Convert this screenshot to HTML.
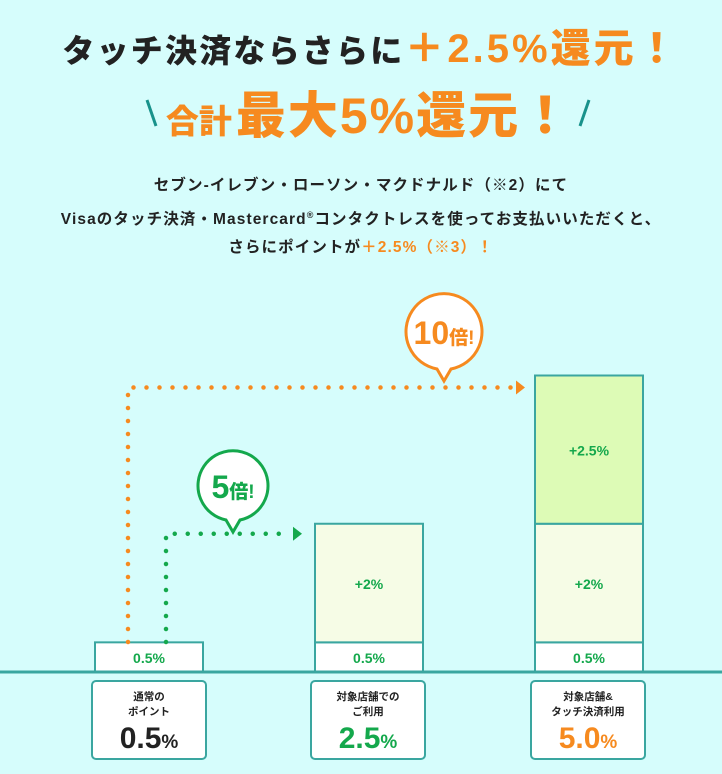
<!DOCTYPE html>
<html><head><meta charset="utf-8"><style>
html,body{margin:0;padding:0;}
body{width:722px;height:774px;background:#d6fdfc;position:relative;overflow:hidden;font-family:"Liberation Sans","Noto Sans CJK JP",sans-serif;}
.abs{position:absolute;}
h1{position:absolute;left:10px;width:722px;top:16px;margin:0;text-align:center;font-size:32px;font-weight:900;color:#222;white-space:nowrap;letter-spacing:2.2px;}
h1 .o{color:#f68a1f;font-size:40px;letter-spacing:3px;}
.h2{position:absolute;left:8px;width:722px;top:76px;text-align:center;color:#f68a1f;font-weight:900;white-space:nowrap;}
.h2 .s{font-size:33px;margin-right:4px;}
.h2 .b{font-size:50px;letter-spacing:2px;}
.p{position:absolute;left:0;width:722px;top:172px;text-align:center;font-size:15.5px;font-weight:bold;color:#222;line-height:28.5px;letter-spacing:1.1px;}
.p .o{color:#f68a1f;}
.lab{position:absolute;top:680px;width:116px;height:80px;background:#fff;border:2px solid #3aa6a0;border-radius:5px;box-sizing:border-box;text-align:center;}
.lab .t{font-size:10.5px;line-height:15px;margin-top:8px;color:#222;font-weight:bold;}
.lab .v{font-size:30px;font-weight:900;line-height:38px;}
.lab .v small{font-size:19px;}
</style></head><body>
<h1>タッチ決済ならさらに<span class="o">＋2.5%還元！</span></h1>
<div class="h2"><span class="s">合計</span><span class="b">最大5%還元！</span></div>
<svg class="abs" style="left:0;top:0" width="722" height="160">
<line x1="147" y1="100" x2="156" y2="126" stroke="#18928b" stroke-width="3"/>
<line x1="589" y1="100" x2="580" y2="126" stroke="#18928b" stroke-width="3"/>
</svg>
<div class="p">セブン-イレブン・ローソン・マクドナルド（※2）にて<br>Visaのタッチ決済・Mastercard<sup style="font-size:9px">®</sup>コンタクトレスを使ってお支払いいただくと、<br>さらにポイントが<span class="o">＋2.5%（※3）！</span></div>

<svg id="chart" class="abs" style="left:0;top:0" width="722" height="680"></svg>

<div class="lab" style="left:91px"><div class="t">通常の<br>ポイント</div><div class="v" style="color:#222">0.5<small>%</small></div></div>
<div class="lab" style="left:310px"><div class="t">対象店舗での<br>ご利用</div><div class="v" style="color:#14a84c">2.5<small>%</small></div></div>
<div class="lab" style="left:530px"><div class="t">対象店舗&amp;<br>タッチ決済利用</div><div class="v" style="color:#f68a1f">5.0<small>%</small></div></div>

<script>
const categories = ["通常のポイント","対象店舗でのご利用","対象店舗&タッチ決済利用"];
const baseValues = [0.5, 0.5, 0.5];
const storeValues = [0, 2, 2];
const touchValues = [0, 0, 2.5];
const baseLabels = ["0.5%","0.5%","0.5%"];
const storeLabels = ["","+2%","+2%"];
const touchLabels = ["","","+2.5%"];

const NS="http://www.w3.org/2000/svg";
const svg=document.getElementById('chart');
const baseY=672, perPct=59.3;
const xPos=i=>95+i*220, bw=108;
const y=v=>baseY-v*perPct;
function mk(tag,attrs){const e=document.createElementNS(NS,tag);for(const k in attrs)e.setAttribute(k,attrs[k]);svg.appendChild(e);return e;}
function txt(x,yy,s,fill,size){const t=mk('text',{x:x,y:yy,'text-anchor':'middle','font-size':size,'font-weight':'bold',fill:fill,'font-family':'Liberation Sans, Noto Sans CJK JP, sans-serif'});t.textContent=s;return t;}

const tops=[];
categories.forEach((c,i)=>{
  const x=xPos(i);
  let b=baseValues[i];
  const r1=mk('rect',{x:x,y:y(b),width:bw,height:b*perPct,fill:'#fff',stroke:'#3aa6a0','stroke-width':2});
  
  
  txt(x+bw/2,(y(b)+baseY)/2+6,baseLabels[i],'#14a84c',14);
  let cur=b;
  if(storeValues[i]>0){
    const r2=mk('rect',{x:x,y:y(cur+storeValues[i]),width:bw,height:storeValues[i]*perPct,fill:'#f6fce6',stroke:'#3aa6a0','stroke-width':2});
    
    
    txt(x+bw/2,(y(cur)+y(cur+storeValues[i]))/2+6,storeLabels[i],'#14a84c',14);
    cur+=storeValues[i];
  }
  if(touchValues[i]>0){
    const r3=mk('rect',{x:x,y:y(cur+touchValues[i]),width:bw,height:touchValues[i]*perPct,fill:'#ddfbb6',stroke:'#3aa6a0','stroke-width':2});
    
    
    txt(x+bw/2,(y(cur)+y(cur+touchValues[i]))/2+6,touchLabels[i],'#14a84c',14);
    cur+=touchValues[i];
  }
  tops.push(y(cur));
});
const bl=mk('line',{x1:0,y1:baseY,x2:722,y2:baseY,stroke:'#3aa6a0','stroke-width':3});



function arrow(xv,yTop,xEnd,color,name){
  const g=mk('path',{d:`M${xv} ${baseY-30} V${yTop} H${xEnd}`,fill:'none',stroke:color,'stroke-width':4.5,'stroke-linecap':'round','stroke-dasharray':'0 13'});
  
  
  mk('polygon',{points:`${xEnd+3},${yTop-7} ${xEnd+12},${yTop} ${xEnd+3},${yTop+7}`,fill:color});
}
arrow(128,tops[2]+12,513,'#f68a1f','arrow-10x');
arrow(166,tops[1]+10,290,'#14a84c','arrow-5x');

function bubble(cx,cy,r,color,big,name){
  const p=mk('path',{d:`M${cx-7} ${cy+r-2} L${cx} ${cy+r+10} L${cx+7} ${cy+r-2} A${r} ${r} 0 1 0 ${cx-7} ${cy+r-2} Z`,fill:'#fff',stroke:color,'stroke-width':3});
  
  
  const t=mk('text',{x:cx,y:cy+11,'text-anchor':'middle',fill:color,'font-weight':'900','font-family':'Liberation Sans, Noto Sans CJK JP, sans-serif'});
  const a=document.createElementNS(NS,'tspan');a.setAttribute('font-size',32);a.textContent=big;t.appendChild(a);
  const b=document.createElementNS(NS,'tspan');b.setAttribute('font-size',19);b.textContent='倍!';t.appendChild(b);
}
bubble(444,333,38,'#f68a1f','10','bubble-10x');
bubble(233,487,35,'#14a84c','5','bubble-5x');
</script>
</body></html>
